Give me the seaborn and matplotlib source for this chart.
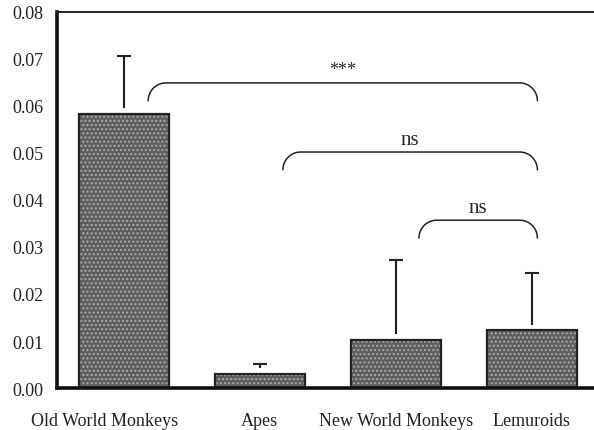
import matplotlib
matplotlib.use("Agg")
import matplotlib.pyplot as plt
import matplotlib.transforms as mtransforms
import seaborn as sns
import numpy as np
import pandas as pd

# values
groups = ['Old World Monkeys', 'Apes', 'New World Monkeys', 'Lemuroids']
means = [0.0583, 0.0030, 0.0102, 0.0123]
upper = [0.0706, 0.0051, 0.0272, 0.0245]   # top of error bar

# significance brackets: (from, to, label)
brackets = [(0.18, 3.04, 0.0649, '***'),
            (1.17, 3.04, 0.0502, 'ns'),
            (2.17, 3.04, 0.0357, 'ns')]

df = pd.DataFrame({'group': groups, 'value': means})

sns.set_style('white')
plt.rcParams['font.family'] = ['Liberation Serif', 'DejaVu Serif']
plt.rcParams['hatch.linewidth'] = 1.0

fig = plt.figure(figsize=(5.94, 4.31), dpi=100)
ax = fig.add_axes([0.096, 0.0974, 0.904, 0.8726])

# hatched fill, then black outline on top
sns.barplot(data=df, x='group', y='value', color='#5f5f5f', width=0.66,
            saturation=1, ax=ax, errorbar=None)
for p in ax.patches:
    p.set_hatch('....')
    p.set_edgecolor('#aaaaaa')
    p.set_linewidth(0)
sns.barplot(data=df, x='group', y='value', fill=False, edgecolor='#222222',
            linewidth=1.6, width=0.66, ax=ax, errorbar=None)

# upper error bars, starting a little above each bar
x = np.arange(len(groups))
gap = 0.0012
for xi, m, u in zip(x, means, upper):
    ax.errorbar(xi, (m + gap + u) / 2, yerr=[[(u - m - gap) / 2], [(u - m - gap) / 2]],
                fmt='none', ecolor='#222222', elinewidth=1.5, capsize=0)
    ax.plot([xi - 0.05, xi + 0.05], [u, u], color='#222222', lw=1.5,
            solid_capstyle='butt')


def bracket(x0, x1, ytop, label, drop=0.0038, rx=0.13):
    t = np.linspace(0, np.pi / 2, 30)
    lx = x0 + rx * (1 - np.cos(t))
    ly = ytop - drop + drop * np.sin(t)
    rxs = x1 - rx * (1 - np.cos(t))
    xs = np.concatenate([lx, rxs[::-1]])
    ys = np.concatenate([ly, ly[::-1]])
    ax.plot(xs, ys, color='#222222', lw=1.1)
    if label == '***':
        ax.text((x0 + x1) / 2, ytop + 0.0010, label, ha='center', va='bottom',
                fontsize=13)
    else:
        ax.text((x0 + x1) / 2, ytop + 0.0006, label, ha='center', va='bottom',
                fontsize=15)


for x0, x1, yt, lab in brackets:
    bracket(x0, x1, yt, lab)

ax.set_xlim(-0.49, 3.456)
ax.set_ylim(0, 0.08)
ax.set_yticks(np.arange(0, 0.081, 0.01))
ax.set_yticklabels([f'{v:.2f}' for v in np.arange(0, 0.081, 0.01)])
ax.set_xlabel('')
ax.set_ylabel('')
ax.tick_params(axis='both', labelsize=13, length=7, width=1.3,
               direction='out', colors='#222222', labelcolor='#222222')
ax.tick_params(axis='x', pad=10)
ax.tick_params(axis='y', pad=3)
for side in ['left', 'bottom']:
    ax.spines[side].set_linewidth(2.6)
    ax.spines[side].set_color('#111111')
ax.spines['top'].set_linewidth(1.4)
ax.spines['top'].set_color('#222222')
ax.spines['right'].set_visible(False)

# first category label sits a bit left of its tick in the original
lbl = ax.get_xticklabels()[0]
lbl.set_transform(lbl.get_transform() +
                  mtransforms.ScaledTranslation(-0.19, 0, fig.dpi_scale_trans))

fig.savefig('out.png', dpi=100)
